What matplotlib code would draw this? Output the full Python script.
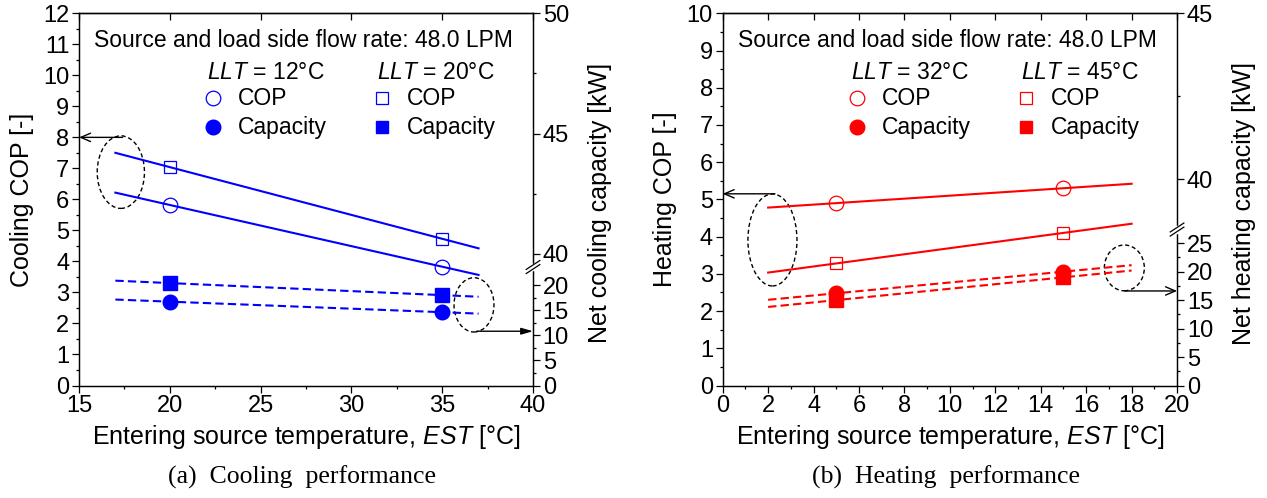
import numpy as np
import matplotlib
matplotlib.use("Agg")
import matplotlib.pyplot as plt
from matplotlib.patches import Ellipse

plt.rcParams['font.family'] = 'Liberation Sans'
plt.rcParams['mathtext.fontset'] = 'custom'
plt.rcParams['mathtext.rm'] = 'Liberation Sans'
plt.rcParams['mathtext.it'] = 'Liberation Sans:italic'

# Cooling mode (EST in degC, COP [-], capacity [kW])
cool_est = [20, 35]
cool_cop_llt12 = [5.82, 3.83]
cool_cop_llt20 = [7.04, 4.73]
cool_cap_llt12 = [16.7, 14.6]
cool_cap_llt20 = [20.4, 18.0]
cool_fit_range = [17, 37]

# Heating mode
heat_est = [5, 15]
heat_cop_llt32 = [4.90, 5.30]
heat_cop_llt45 = [3.28, 4.10]
heat_cap_llt32 = [16.2, 20.0]
heat_cap_llt45 = [15.0, 19.0]
heat_fit_range = [2, 18]

# broken right axis: capacity [kW] -> position on the COP scale
cool_break_kw = [0, 23.6, 40, 50]
cool_break_u = [0, 3.82, 4.24, 12.0]
heat_break_kw = [0, 27.4, 40, 45]
heat_break_u = [0, 4.19, 5.54, 10.0]

BLUE = (0, 0, 1)
RED = (1, 0, 0)
FS_TICK = 17
FS_LAB = 18
FS_TXT = 16.5


def fit_line(x, y, xr):
    p = np.polyfit(x, y, 1)
    xr = np.asarray(xr, float)
    return xr, np.polyval(p, xr)


def panel(ax, est, cop_a, cop_b, cap_a, cap_b, fit_range, color,
          kw_pts, u_pts, llt_a, llt_b, mode, caption):
    kw_pts = np.asarray(kw_pts, float)
    u_pts = np.asarray(u_pts, float)
    fwd = lambda v: np.interp(v, kw_pts, u_pts)
    inv = lambda u: np.interp(u, u_pts, kw_pts)

    ax2 = ax.twinx()
    ax2.set_yscale('function', functions=(fwd, inv))
    ax2.set_ylim(kw_pts[0], kw_pts[-1])

    # COP on the left axis
    xs, ys = fit_line(est, cop_a, fit_range)
    ax.plot(xs, ys, color=color, lw=1.5)
    xs, ys = fit_line(est, cop_b, fit_range)
    ax.plot(xs, ys, color=color, lw=1.5)
    ax.plot(est, cop_a, 'o', ms=10.5, mfc='none', mec=color, mew=0.9)
    ax.plot(est, cop_b, 's', ms=9, mfc='none', mec=color, mew=0.9)

    # capacity on the right axis
    xs, ys = fit_line(est, cap_a, fit_range)
    ax2.plot(xs, ys, color=color, lw=1.5, ls=(0, (4, 2)))
    xs, ys = fit_line(est, cap_b, fit_range)
    ax2.plot(xs, ys, color=color, lw=1.5, ls=(0, (4, 2)))
    ax2.plot(est, cap_b, 's', ms=9.5, color=color)
    ax2.plot(est, cap_a, 'o', ms=10.5, color=color)

    # right axis ticks
    if mode == 'cooling':
        ax2.set_yticks([0, 5, 10, 15, 20, 40, 45, 50])
        ax2.set_yticks([2.5, 7.5, 12.5, 17.5, 42.5, 47.5], minor=True)
        brk = cool_break_u[1]
    else:
        ax2.set_yticks([0, 5, 10, 15, 20, 25, 40, 45])
        ax2.set_yticks([2.5, 7.5, 12.5, 17.5, 22.5, 42.5], minor=True)
        brk = heat_break_u[1]
    ax2.set_yticklabels([str(t) for t in ax2.get_yticks()])
    ax2.tick_params(axis='y', which='major', direction='out', length=5,
                    width=0.9, labelsize=FS_TICK, pad=2)
    ax2.tick_params(axis='y', which='minor', direction='out', length=2.5, width=0.9)

    # break marks on the right spine
    yb = brk / u_pts[-1]
    ax2.plot([1, 1], [yb - 0.006, yb + 0.006], color='white', lw=2.5,
             transform=ax2.transAxes, clip_on=False, zorder=5)
    for off in (-0.0055, 0.0055):
        ax2.plot([0.985, 1.015], [yb + off - 0.012, yb + off + 0.012],
                 color='k', lw=0.9, transform=ax2.transAxes, clip_on=False,
                 zorder=6)

    ax2.set_ylabel('Net %s capacity [kW]' % mode, fontsize=FS_LAB)
    ax2.yaxis.set_label_coords(1.121, 0.49)

    for sp in ax.spines.values():
        sp.set_linewidth(0.9)
    for sp in ax2.spines.values():
        sp.set_linewidth(0.9)

    ax.set_ylabel('%s COP [-]' % mode.capitalize(), fontsize=FS_LAB)
    ax.yaxis.set_label_coords(-0.1, 0.5)
    ax.set_xlabel(r'Entering source temperature, $EST$ [°C]', fontsize=FS_LAB)
    ax.xaxis.set_label_coords(0.5, -0.1)
    ax.tick_params(axis='both', which='major', direction='out', length=5,
                   width=0.9, labelsize=FS_TICK, pad=2)
    ax.tick_params(axis='both', which='minor', direction='out', length=2.5, width=0.9)

    # inward ticks along the top
    top = ax.secondary_xaxis('top')
    top.set_xticks(ax.get_xticks())
    top.tick_params(direction='in', length=5, width=0.9, labeltop=False)
    top.spines['top'].set_linewidth(0.9)

    # in-plot legend
    tr = ax.transAxes
    ax.text(0.034, 0.928, 'Source and load side flow rate: 48.0 LPM',
            transform=tr, fontsize=FS_TXT, va='center')
    ax.text(0.282, 0.84, r'$LLT$ = %d°C' % llt_a, transform=tr,
            fontsize=FS_TXT, va='center')
    ax.text(0.656, 0.84, r'$LLT$ = %d°C' % llt_b, transform=tr,
            fontsize=FS_TXT, va='center')
    ax.plot([0.295], [0.772], 'o', ms=10.5, mfc='none', mec=color, mew=0.9, transform=tr)
    ax.plot([0.295], [0.694], 'o', ms=10.5, color=color, transform=tr)
    ax.plot([0.668], [0.772], 's', ms=9, mfc='none', mec=color, mew=0.9, transform=tr)
    ax.plot([0.668], [0.694], 's', ms=9, color=color, transform=tr)
    for x0 in (0.35, 0.722):
        ax.text(x0, 0.772, 'COP', transform=tr, fontsize=FS_TXT, va='center')
        ax.text(x0, 0.694, 'Capacity', transform=tr, fontsize=FS_TXT, va='center')

    ax.text(0.492, -0.246, caption, transform=tr, fontsize=18.5,
            family='Liberation Serif', ha='center', va='center')
    return ax2


fig = plt.figure(figsize=(12.67, 4.98), dpi=100)
ax_c = fig.add_axes([0.0624, 0.2259, 0.3583, 0.7474])
ax_h = fig.add_axes([0.5704, 0.2259, 0.3586, 0.7474])

# cooling
ax_c.set_xlim(15, 40)
ax_c.set_ylim(0, 12)
ax_c.set_xticks(np.arange(15, 41, 5))
ax_c.set_xticks(np.arange(17.5, 40, 5), minor=True)
ax_c.set_yticks(np.arange(0, 13, 1))
ax_c.set_yticks(np.arange(0.5, 12, 1), minor=True)
panel(ax_c, cool_est, cool_cop_llt12, cool_cop_llt20, cool_cap_llt12, cool_cap_llt20,
      cool_fit_range, BLUE, cool_break_kw, cool_break_u, 12, 20, 'cooling',
      '(a)  Cooling  performance')
ax_c.add_patch(Ellipse((17.3, 6.88), 2.6, 2.34, fill=False, ec='k', lw=1.0,
                       ls=(0, (3, 2))))
ax_c.add_patch(Ellipse((36.75, 2.6), 2.2, 1.75, fill=False, ec='k', lw=1.0,
                       ls=(0, (3, 2))))
ax_c.annotate('', xy=(15, 8.0), xytext=(17.4, 8.0), annotation_clip=False,
              arrowprops=dict(arrowstyle='->,head_length=0.7,head_width=0.3',
                              color='k', lw=1.0, shrinkA=0, shrinkB=0))
ax_c.annotate('', xy=(40, 1.75), xytext=(36.9, 1.75), annotation_clip=False,
              arrowprops=dict(arrowstyle='-|>,head_length=0.7,head_width=0.2',
                              color='k', lw=1.0, shrinkA=0, shrinkB=0))

# heating
ax_h.set_xlim(0, 20)
ax_h.set_ylim(0, 10)
ax_h.set_xticks(np.arange(0, 21, 2))
ax_h.set_xticks(np.arange(1, 20, 2), minor=True)
ax_h.set_yticks(np.arange(0, 11, 1))
ax_h.set_yticks(np.arange(0.5, 10, 1), minor=True)
panel(ax_h, heat_est, heat_cop_llt32, heat_cop_llt45, heat_cap_llt32, heat_cap_llt45,
      heat_fit_range, RED, heat_break_kw, heat_break_u, 32, 45, 'heating',
      '(b)  Heating  performance')
ax_h.add_patch(Ellipse((2.19, 3.91), 2.16, 2.47, fill=False, ec='k', lw=1.0,
                       ls=(0, (3, 2))))
ax_h.add_patch(Ellipse((17.68, 3.16), 1.76, 1.23, fill=False, ec='k', lw=1.0,
                       ls=(0, (3, 2))))
ax_h.annotate('', xy=(0, 5.15), xytext=(2.3, 5.15), annotation_clip=False,
              arrowprops=dict(arrowstyle='->,head_length=0.7,head_width=0.3',
                              color='k', lw=1.0, shrinkA=0, shrinkB=0))
ax_h.annotate('', xy=(20, 2.54), xytext=(17.7, 2.54), annotation_clip=False,
              arrowprops=dict(arrowstyle='->,head_length=0.7,head_width=0.3',
                              color='k', lw=1.0, shrinkA=0, shrinkB=0))

fig.savefig('out.png', dpi=100)
